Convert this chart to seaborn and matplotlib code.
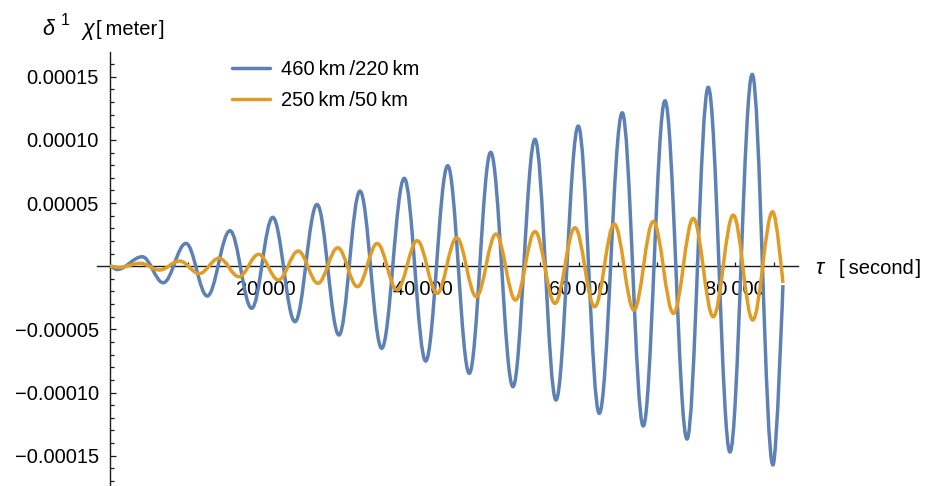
import matplotlib
matplotlib.use("Agg")
import matplotlib.pyplot as plt
import seaborn as sns
from matplotlib.path import Path
from matplotlib.patches import PathPatch
from matplotlib.lines import Line2D
from matplotlib.ticker import FixedLocator, FixedFormatter

sns.set_theme(style="white")
plt.rcParams["font.family"] = ["Liberation Sans", "DejaVu Sans"]
plt.rcParams["text.color"] = "black"

# Turning points (time in seconds, displacement in meters) of each response curve
tau_460 = [0, 900, 4130, 6820, 9730, 12450, 15360, 18140, 20830, 23680, 26500,
           29310, 32000, 34780, 37670, 40410, 43230, 45990, 48730, 51580, 54400,
           57090, 59940, 62630, 65570, 68260, 71040, 73860, 76580, 79360, 82210,
           84860, 86140]
chi_460 = [0.0, -2.6e-6, 7.5e-6, -1.31e-5, 1.81e-5, -2.36e-5, 2.81e-5, -3.33e-5,
           3.87e-5, -4.39e-5, 4.89e-5, -5.45e-5, 5.95e-5, -6.50e-5, 6.96e-5,
           -7.51e-5, 7.96e-5, -8.48e-5, 9.02e-5, -9.54e-5, 1.005e-4, -1.059e-4,
           1.110e-4, -1.165e-4, 1.215e-4, -1.265e-4, 1.310e-4, -1.368e-4,
           1.417e-4, -1.471e-4, 1.519e-4, -1.574e-4, -1.49e-5]

tau_250 = [0, 1150, 3840, 6360, 8900, 11430, 13950, 16510, 19020, 21560, 24090,
           26620, 29150, 31680, 34210, 36740, 39330, 41860, 44380, 46890, 49410,
           51900, 54400, 56960, 59520, 62040, 64550, 67070, 69540, 72130, 74660,
           77220, 79780, 82270, 84830, 86140]
chi_250 = [0.0, -1.0e-6, 2.3e-6, -3.0e-6, 4.1e-6, -5.8e-6, 6.3e-6, -8.3e-6,
           9.4e-6, -1.09e-5, 1.20e-5, -1.35e-5, 1.46e-5, -1.62e-5, 1.80e-5,
           -1.88e-5, 2.02e-5, -2.15e-5, 2.26e-5, -2.41e-5, 2.55e-5, -2.68e-5,
           2.75e-5, -2.94e-5, 3.05e-5, -3.21e-5, 3.34e-5, -3.47e-5, 3.54e-5,
           -3.73e-5, 3.79e-5, -4.00e-5, 4.05e-5, -4.26e-5, 4.32e-5, -1.33e-5]

series_labels = ["460\u2009km\u2009/220\u2009km", "250\u2009km\u2009/50\u2009km"]
series_colors = sns.color_palette(["#5E81B5", "#E09C24"])

xtick_values = [20000, 40000, 60000, 80000]
xtick_labels = ["20\u2009000", "40\u2009000", "60\u2009000", "80\u2009000"]
ytick_values = [-0.00015, -0.00010, -0.00005, 0.00005, 0.00010, 0.00015]
ytick_labels = ["\u22120.00015", "\u22120.00010", "\u22120.00005",
                "0.00005", "0.00010", "0.00015"]

FS = 14.5
LW = 2.5
AXIS_COLOR = "#1a1a1a"


def smooth_curve(t, v, k=0.3634):
    """Cubic Bezier path through turning points with flat tangents at each extremum."""
    verts = [(t[0], v[0])]
    codes = [Path.MOVETO]
    n = len(t)
    for i in range(n - 1):
        dt = t[i + 1] - t[i]
        c1 = (t[i] + k * dt, v[i])
        if i + 1 == n - 1:
            c2 = (t[i + 1], v[i + 1])
        else:
            c2 = (t[i + 1] - k * dt, v[i + 1])
        verts += [c1, c2, (t[i + 1], v[i + 1])]
        codes += [Path.CURVE4] * 3
    return Path(verts, codes)


fig = plt.figure(figsize=(9.35, 4.86), dpi=100)
ax = fig.add_axes([96.7 / 935, 0.0, 701 / 935, 434 / 486])
ax.set_facecolor("white")
ax.set_xlim(-1703, 88030)
ax.set_ylim(-1.740e-4, 1.696e-4)

for tt, vv, col in [(tau_460, chi_460, series_colors[0]),
                    (tau_250, chi_250, series_colors[1])]:
    ax.add_patch(PathPatch(smooth_curve(tt, vv), facecolor="none", edgecolor=col,
                           lw=LW, capstyle="butt", joinstyle="round", zorder=2))

# Axes crossing at the origin
for side in ["top", "right"]:
    ax.spines[side].set_visible(False)
ax.spines["left"].set_position(("data", 0))
ax.spines["bottom"].set_position(("data", 0))
for side in ["left", "bottom"]:
    ax.spines[side].set_color(AXIS_COLOR)
    ax.spines[side].set_linewidth(1.0)
    ax.spines[side].set_zorder(1)

ax.xaxis.set_major_locator(FixedLocator(xtick_values))
ax.xaxis.set_major_formatter(FixedFormatter(xtick_labels))
ax.xaxis.set_minor_locator(FixedLocator([m * 5000 for m in range(1, 18)]))
ax.yaxis.set_major_locator(FixedLocator(ytick_values))
ax.yaxis.set_major_formatter(FixedFormatter(ytick_labels))
ax.yaxis.set_minor_locator(FixedLocator([m * 1e-5 for m in range(-17, 17) if m != 0]))

ax.tick_params(axis="x", which="both", bottom=True, top=False, direction="in",
               length=3.0, width=0.9, color=AXIS_COLOR)
ax.tick_params(axis="x", which="major", labelsize=FS, pad=10, labelcolor="black")
ax.tick_params(axis="y", which="both", left=True, right=False, direction="in",
               width=0.9, color=AXIS_COLOR)
ax.tick_params(axis="y", which="major", length=4.5, labelsize=FS, pad=8,
               labelcolor="black")
ax.tick_params(axis="y", which="minor", length=2.6)
ax.grid(False)

# Legend
handles = [Line2D([], [], color=c, lw=LW) for c in series_colors]
leg = ax.legend(handles, series_labels, loc="upper left",
                bbox_to_anchor=(232 / 935, 1 - 60 / 486), bbox_transform=fig.transFigure,
                frameon=False, fontsize=FS, handlelength=1.9, handletextpad=0.55,
                labelspacing=0.62, borderpad=0, borderaxespad=0)
for txt in leg.get_texts():
    txt.set_color("black")

# Axis labels
def px(x, y):
    return x / 935, 1 - y / 486

fig.text(*px(42, 35), "\u03b4", fontsize=FS + 1, style="italic", va="baseline")
fig.text(*px(61, 25), "1", fontsize=FS - 3, va="baseline")
fig.text(*px(83, 35), "\u03c7", fontsize=FS + 1, style="italic", va="baseline")
fig.text(*px(96, 35), "[\u2009meter\u200a]", fontsize=FS, va="baseline")
fig.text(*px(815, 274), "\u03c4", fontsize=FS + 1, style="italic", va="baseline")
fig.text(*px(839, 274), "[\u2009second\u200a]", fontsize=FS, va="baseline")

fig.savefig("out.png", dpi=100, facecolor="white")
